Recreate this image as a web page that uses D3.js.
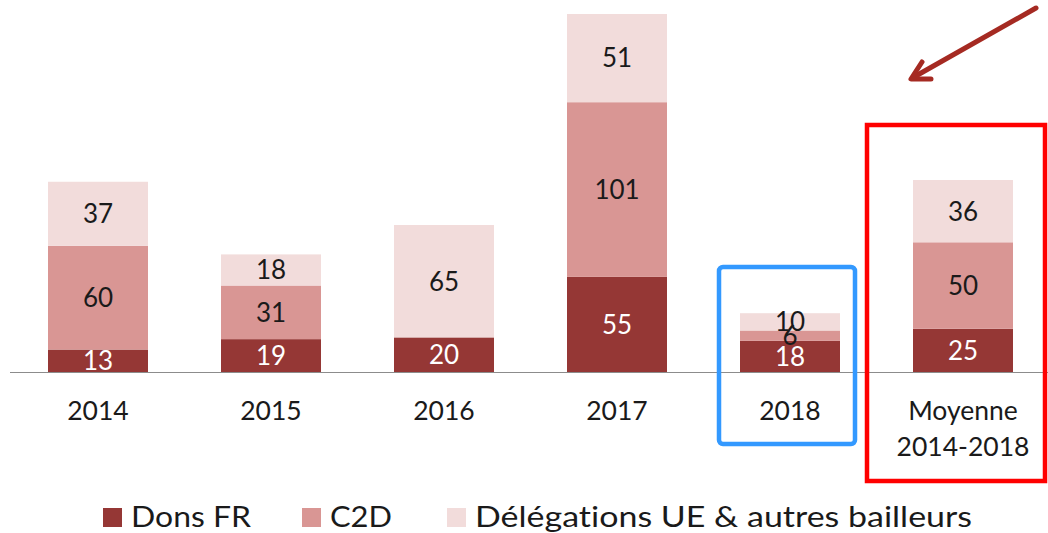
<!DOCTYPE html>
<html><head><meta charset="utf-8">
<script src="https://cdn.jsdelivr.net/npm/d3@7/dist/d3.min.js"></script>
<style>body{margin:0;background:#fff}svg{display:block}text{font-variant-ligatures:none;font-feature-settings:"liga" 0}</style>
</head><body><svg id="c" width="1048" height="533"></svg>
<script>
const categories = ["2014","2015","2016","2017","2018","Moyenne 2014-2018"];
const donsFR = [13,19,20,55,18,25];
const c2d = [60,31,0,101,6,50];
const delegations = [37,18,65,51,10,36];
const seriesNames = ["Dons FR","C2D","Délégations UE & autres bailleurs"];
const colors = ["#953735","#D99694","#F2DCDB"];
const labelColors = ["#ffffff","#1a1a1a","#1a1a1a"];

const svg = d3.select("#c");
const font = "Lato, 'Open Sans', sans-serif";
const x = d3.scaleBand().domain(categories).range([11.5,1049.5]).paddingInner(0.422).paddingOuter(0.211);
const y = d3.scaleLinear().domain([0,207]).range([372,14]);

const rows = categories.map((c,i)=>({cat:c, s0:donsFR[i], s1:c2d[i], s2:delegations[i]}));
const stack = d3.stack().keys(["s0","s1","s2"])(rows);

stack.forEach((layer,k)=>{
  const g = svg.append("g");
  g.selectAll("rect").data(layer).join("rect")
    .attr("x",d=>x(d.data.cat)).attr("width",x.bandwidth())
    .attr("y",d=>y(d[1])).attr("height",d=>y(d[0])-y(d[1]))
    .attr("fill",colors[k]);
});
stack.forEach((layer,k)=>{
  svg.append("g").selectAll("text").data(layer.filter(d=>d[1]-d[0]>0)).join("text")
    .attr("x",d=>x(d.data.cat)+x.bandwidth()/2)
    .attr("y",d=>(y(d[0])+y(d[1]))/2)
    .attr("dy","0.36em")
    .attr("text-anchor","middle")
    .attr("font-family",font).attr("font-size",26)
    .attr("fill",labelColors[k])
    .text(d=>d[1]-d[0]);
});

// baseline axis
svg.append("line").attr("x1",10).attr("x2",1048).attr("y1",y(0)+0.5).attr("y2",y(0)+0.5)
  .attr("stroke","#8c8c8c").attr("stroke-width",1.2);

// category labels
const xa = svg.append("g");
categories.forEach(c=>{
  const parts = c.startsWith("Moyenne") ? ["Moyenne","2014-2018"] : [c];
  const t = xa.append("text").attr("x",x(c)+x.bandwidth()/2).attr("text-anchor","middle")
    .attr("font-family",font).attr("font-size",26.5).attr("fill","#1a1a1a");
  parts.forEach((p,j)=>t.append("tspan").attr("x",x(c)+x.bandwidth()/2).attr("y",420+j*36).text(p));
});

// legend
const legX = [103,302,447];
const legW = [120,62,497];
seriesNames.forEach((n,k)=>{
  svg.append("rect").attr("x",legX[k]).attr("y",508).attr("width",19).attr("height",19).attr("fill",colors[k]);
  svg.append("text").attr("x",legX[k]+28).attr("y",527).attr("font-family",font).attr("font-size",29.5)
    .attr("fill","#1a1a1a").attr("textLength",legW[k]).attr("lengthAdjust","spacingAndGlyphs").text(n);
});

// highlight boxes
svg.append("rect").attr("x",719).attr("y",267).attr("width",136).attr("height",177).attr("rx",4)
  .attr("fill","none").attr("stroke","#3399FF").attr("stroke-width",4.5);
svg.append("rect").attr("x",867).attr("y",125).attr("width",178).attr("height",356)
  .attr("fill","none").attr("stroke","#FF0000").attr("stroke-width",4.5);

// arrow
const ac = "#A52A22";
svg.append("line").attr("x1",1036).attr("y1",8).attr("x2",914).attr("y2",77)
  .attr("stroke",ac).attr("stroke-width",5).attr("stroke-linecap","round");
svg.append("polyline").attr("points","922,62 911,79 931,79")
  .attr("fill","none").attr("stroke",ac).attr("stroke-width",5).attr("stroke-linecap","round").attr("stroke-linejoin","round");
</script></body></html>
